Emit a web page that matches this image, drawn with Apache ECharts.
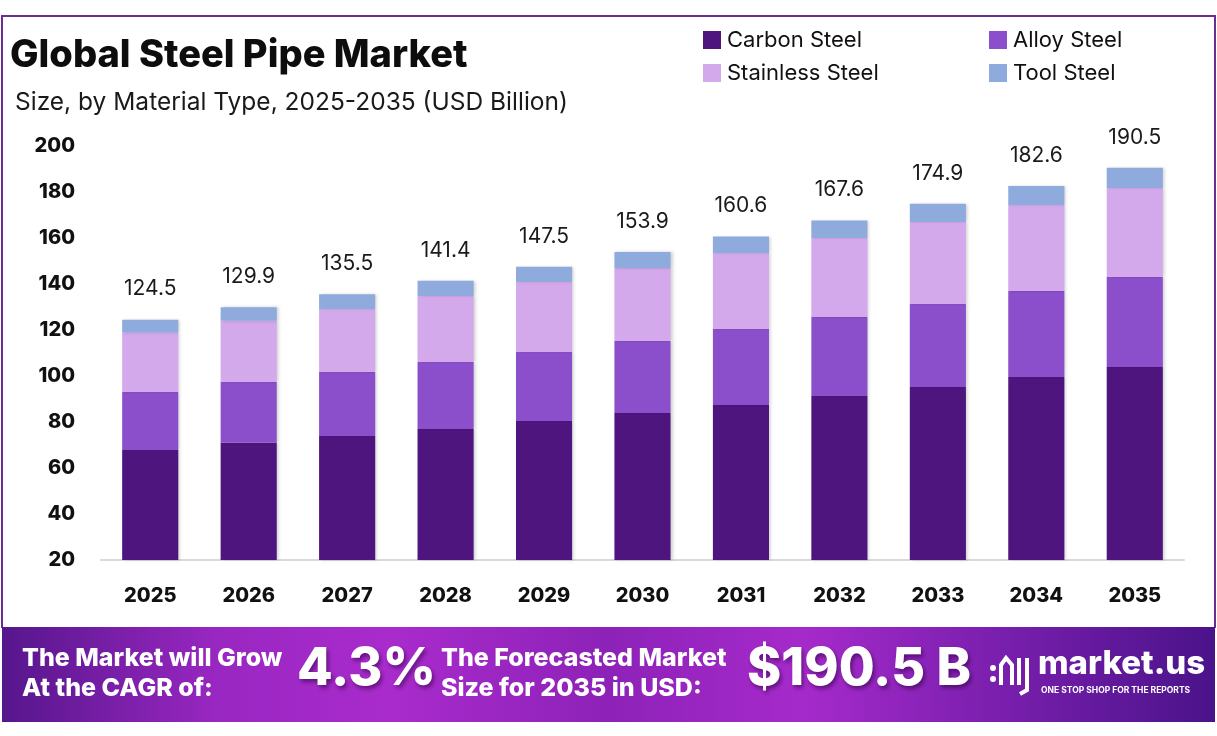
<!DOCTYPE html>
<html>
<head>
<meta charset="utf-8">
<script src="https://cdn.jsdelivr.net/npm/echarts@6/dist/echarts.min.js"></script>
<style>
html,body{margin:0;padding:0;background:#fff;}
#c{width:1217px;height:736px;}
</style>
</head>
<body>
<div id="c"></div>
<script>
const years = ['2025','2026','2027','2028','2029','2030','2031','2032','2033','2034','2035'];
const carbonSteel = [67.8, 71.0, 73.9, 77.0, 80.4, 83.9, 87.4, 91.3, 95.2, 99.6, 103.9];
const alloySteel = [25.2, 26.4, 27.8, 29.1, 30.0, 31.3, 33.0, 34.4, 36.1, 37.4, 39.1];
const stainlessSteel = [25.8, 26.6, 27.4, 28.7, 30.5, 31.8, 33.1, 34.3, 35.7, 37.3, 38.7];
const toolSteel = [5.7, 5.9, 6.4, 6.6, 6.6, 6.9, 7.1, 7.6, 7.9, 8.3, 8.8];
const totals = [124.5, 129.9, 135.5, 141.4, 147.5, 153.9, 160.6, 167.6, 174.9, 182.6, 190.5];
const yTicks = [20, 40, 60, 80, 100, 120, 140, 160, 180, 200];

const colors = {
  'Carbon Steel': '#4e157f',
  'Alloy Steel': '#8b4fcb',
  'Stainless Steel': '#d3a9ec',
  'Tool Steel': '#8faadc'
};
const FONT = 'Inter, "Noto Sans", sans-serif';

const chart = echarts.init(document.getElementById('c'), null, {renderer: 'canvas'});

function barSeries(name, data, withLabel) {
  const s = {
    name: name,
    type: 'bar',
    stack: 'total',
    data: data,
    barWidth: '57%',
    itemStyle: {
      color: colors[name],
      shadowColor: 'rgba(0,0,0,0.18)',
      shadowBlur: 3,
      shadowOffsetX: 2
    },
    emphasis: {disabled: true}
  };
  if (withLabel) {
    s.label = {
      show: true,
      position: 'top',
      distance: 20,
      formatter: p => totals[p.dataIndex].toFixed(1),
      fontFamily: FONT,
      fontSize: 21,
      color: '#1a1a1a'
    };
  }
  return s;
}

function legendAt(name, left, top) {
  return {
    data: [name],
    left: left, top: top,
    icon: 'rect',
    itemWidth: 18, itemHeight: 18,
    itemGap: 0,
    selectedMode: false,
    textStyle: {fontFamily: FONT, fontSize: 22, color: '#111', padding: [0,0,0,1]}
  };
}

const option = {
  animation: false,
  backgroundColor: '#ffffff',
  legend: [
    legendAt('Carbon Steel', 698, 24),
    legendAt('Alloy Steel', 984, 24),
    legendAt('Stainless Steel', 698, 57),
    legendAt('Tool Steel', 984, 57)
  ],
  grid: {left: 101, right: 33, top: 146, height: 414, containLabel: false},
  xAxis: {
    type: 'category',
    data: years,
    axisLine: {show: true, lineStyle: {color: '#d9d9d9', width: 2}},
    axisTick: {show: false},
    axisLabel: {fontFamily: FONT, fontWeight: 800, fontSize: 20, color: '#111', margin: 26}
  },
  yAxis: {
    type: 'value',
    min: 20, max: 200, interval: 20,
    axisLine: {show: false},
    axisTick: {show: false},
    splitLine: {show: false},
    axisLabel: {
      fontFamily: FONT, fontWeight: 800, fontSize: 20, color: '#111', margin: 26,
      formatter: v => yTicks.includes(v) ? String(v) : ''
    }
  },
  series: [
    barSeries('Carbon Steel', carbonSteel, false),
    barSeries('Alloy Steel', alloySteel, false),
    barSeries('Stainless Steel', stainlessSteel, false),
    barSeries('Tool Steel', toolSteel, true)
  ],
  graphic: [
    {type: 'polyline', silent: true, z: -1,
      shape: {points: [[2, 628], [2, 16], [1215, 16], [1215, 628]]},
      style: {stroke: '#6b2d93', lineWidth: 2, fill: null}},
    {type: 'text', left: 10, top: 37,
      style: {text: 'Global Steel Pipe Market', fontFamily: FONT, fontWeight: 800, fontSize: 38, fill: '#0d0d0d'}},
    {type: 'text', left: 15, top: 90,
      style: {text: 'Size, by Material Type, 2025-2035 (USD Billion)', fontFamily: FONT, fontSize: 24.5, fill: '#1a1a1a'}},
    {type: 'rect', silent: true, shape: {x: 2, y: 627, width: 1213, height: 95},
      style: {fill: new echarts.graphic.LinearGradient(0, 0, 1, 0, [
        {offset: 0, color: '#56168c'},
        {offset: 0.18, color: '#9a27c2'},
        {offset: 0.32, color: '#a92bcc'},
        {offset: 0.5, color: '#8d22b8'},
        {offset: 0.66, color: '#a62acb'},
        {offset: 0.82, color: '#7a1fae'},
        {offset: 1, color: '#4a138a'}
      ])}},
    {type: 'text', left: 22, top: 643,
      style: {text: 'The Market will Grow\nAt the CAGR of:', fontFamily: FONT, fontWeight: 800, fontSize: 25, lineHeight: 30, fill: '#ffffff'}},
    {type: 'text', left: 297, top: 643,
      style: {text: '4.3%', fontFamily: FONT, fontWeight: 800, fontSize: 52, fill: '#ffffff',
        textShadowColor: 'rgba(40,0,60,0.55)', textShadowBlur: 4, textShadowOffsetX: 2, textShadowOffsetY: 3}},
    {type: 'text', left: 441, top: 643,
      style: {text: 'The Forecasted Market\nSize for 2035 in USD:', fontFamily: FONT, fontWeight: 800, fontSize: 25, lineHeight: 30, fill: '#ffffff'}},
    {type: 'text', left: 747, top: 643,
      style: {text: '$190.5 B', fontFamily: FONT, fontWeight: 800, fontSize: 52, fill: '#ffffff',
        textShadowColor: 'rgba(40,0,60,0.55)', textShadowBlur: 4, textShadowOffsetX: 2, textShadowOffsetY: 3}},
    {type: 'circle', shape: {cx: 993, cy: 668, r: 3}, style: {fill: '#fff'}},
    {type: 'circle', shape: {cx: 993, cy: 679, r: 3}, style: {fill: '#fff'}},
    {type: 'polyline', shape: {points: [[1001, 685], [1001, 665], [1006, 658], [1012, 665], [1012, 685]]},
      style: {stroke: '#fff', lineWidth: 4, fill: null}},
    {type: 'polyline', shape: {points: [[1019, 658], [1019, 685]]}, style: {stroke: '#fff', lineWidth: 4}},
    {type: 'polyline', shape: {points: [[1027, 658], [1027, 690], [1020, 694]]}, style: {stroke: '#fff', lineWidth: 4, fill: null}},
    {type: 'text', left: 1038, top: 648,
      style: {text: 'market.us', fontFamily: FONT, fontWeight: 800, fontSize: 33, fill: '#ffffff'}},
    {type: 'text', left: 1041, top: 686,
      style: {text: 'ONE STOP SHOP FOR THE REPORTS', fontFamily: FONT, fontWeight: 700, fontSize: 8.5, fill: '#ffffff'}}
  ]
};
chart.setOption(option);
</script>
</body>
</html>
